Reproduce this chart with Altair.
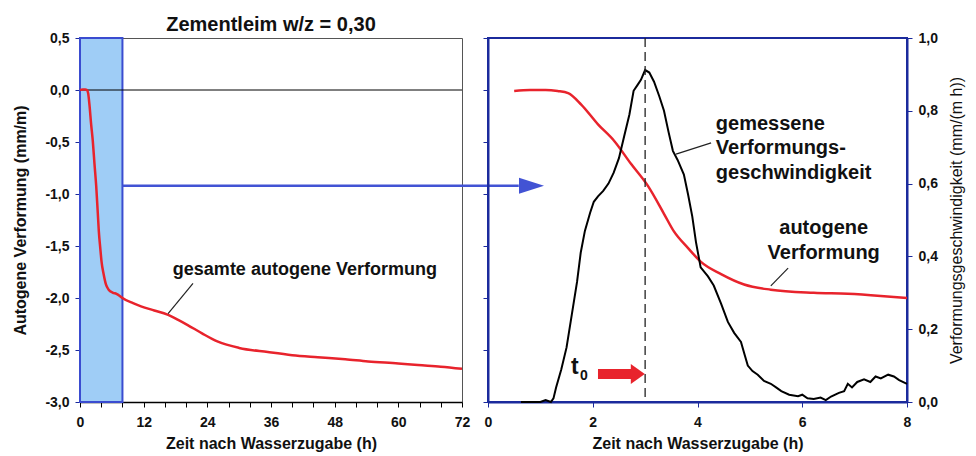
import altair as alt
import pandas as pd

# ---------------- data ----------------
# left panel: total autogenous deformation (mm/m) over 72 h
left_t = [0, 0.5, 1.0, 1.3, 1.53, 1.78, 2.1, 2.41, 2.73, 3.05, 3.36, 3.55, 3.82, 4.06, 4.45,
          4.89, 5.4, 6.22, 6.87, 7.5, 8.0, 10, 11.5, 14, 16.5, 18.5, 20.3, 23, 26, 30, 35.4,
          40, 44.8, 50, 54.3, 60, 63.7, 68, 72]
left_v = [0.0, 0.005, 0.005, 0.0, -0.03, -0.14, -0.33, -0.49, -0.71, -0.92, -1.19, -1.36, -1.52,
          -1.65, -1.77, -1.87, -1.92, -1.95, -1.96, -1.98, -2.0, -2.05, -2.08, -2.12, -2.16,
          -2.21, -2.26, -2.34, -2.42, -2.48, -2.52, -2.55, -2.57, -2.59, -2.61, -2.63, -2.645,
          -2.66, -2.68]

# right panel: autogenous deformation (mm/m), first 8 h
right_t = [0.5, 0.8, 1.1, 1.33, 1.53, 1.78, 2.1, 2.41, 2.73, 3.05, 3.36, 3.55, 3.82, 4.06, 4.45,
           4.89, 5.4, 6.22, 6.87, 7.5, 8.0]
right_v = [-0.01, 0.0, 0.0, -0.01, -0.03, -0.14, -0.33, -0.49, -0.71, -0.92, -1.19, -1.36, -1.52,
           -1.65, -1.77, -1.87, -1.92, -1.95, -1.96, -1.98, -2.0]

# right panel: measured deformation rate (mm/(m h))
rate_t = [0.63, 1.0, 1.1, 1.2, 1.25, 1.3, 1.4, 1.5, 1.6, 1.7, 1.77, 1.85, 1.95, 2.02, 2.1, 2.2,
          2.3, 2.4, 2.5, 2.6, 2.7, 2.78, 2.85, 2.92, 3.0, 3.08, 3.17, 3.27, 3.36, 3.45, 3.53,
          3.62, 3.74, 3.82, 3.9, 3.97, 4.06, 4.2, 4.31, 4.45, 4.58, 4.7, 4.83, 4.9, 4.96, 5.05,
          5.15, 5.27, 5.4, 5.5, 5.6, 5.75, 5.92, 6.0, 6.1, 6.22, 6.35, 6.45, 6.55, 6.7, 6.8,
          6.87, 6.95, 7.05, 7.18, 7.3, 7.4, 7.5, 7.64, 7.75, 7.85, 8.0]
rate_v = [0.0, 0.0, 0.005, 0.0, 0.01, 0.04, 0.09, 0.15, 0.24, 0.33, 0.41, 0.47, 0.52, 0.55, 0.565,
          0.58, 0.6, 0.63, 0.67, 0.73, 0.79, 0.855, 0.87, 0.885, 0.912, 0.905, 0.88, 0.84, 0.80,
          0.74, 0.69, 0.665, 0.625, 0.57, 0.51, 0.44, 0.37, 0.345, 0.32, 0.27, 0.22, 0.19, 0.165,
          0.13, 0.10, 0.085, 0.075, 0.058, 0.05, 0.04, 0.03, 0.02, 0.016, 0.02, 0.01, 0.008,
          0.012, 0.005, 0.015, 0.025, 0.03, 0.05, 0.04, 0.055, 0.062, 0.055, 0.07, 0.065, 0.075,
          0.07, 0.06, 0.05]

left_x_ticks = list(range(0, 73, 4))
left_y_ticks = [-3.0, -2.5, -2.0, -1.5, -1.0, -0.5, 0.0, 0.5]
right_x_ticks = [0, 2, 4, 6, 8]
right_y_ticks = [0.0, 0.2, 0.4, 0.6, 0.8, 1.0]

title_text = "Zementleim w/z = 0,30"
x_title = "Zeit nach Wasserzugabe (h)"
left_y_title = "Autogene Verformung (mm/m)"
right_y_title = "Verformungsgeschwindigkeit (mm/(m h))"

# shaded window (0-8 h) and transfer arrow (left-panel units)
shade_t = [0]; shade_t2 = [8]; shade_v = [-3.0]; shade_v2 = [0.5]
blue_arrow_t = [8]; blue_arrow_t2 = [82.7]; blue_arrow_v = [-0.92]
blue_head_t = [85.1]; blue_head_v = [-0.92]

left_label = ["gesamte autogene Verformung"]; left_label_t = [17.5]; left_label_v = [-1.73]
left_lead_t = [21.3]; left_lead_t2 = [16.6]; left_lead_v = [-1.86]; left_lead_v2 = [-2.15]

right_labels = ["gemessene", "Verformungs-", "geschwindigkeit"]
right_labels_t = [4.35, 4.35, 4.35]
right_labels_v = [0.764, 0.698, 0.629]
right_labels2 = ["autogene", "Verformung"]
right_labels2_t = [6.41, 6.41]
right_labels2_v = [0.478, 0.409]
lead_t = [3.59, 5.73]; lead_t2 = [4.26, 5.40]; lead_v = [0.681, 0.368]; lead_v2 = [0.712, 0.319]

t0_t = [3.0]
red_arrow_t = [2.10]; red_arrow_t2 = [2.78]; red_arrow_v = [0.077]
red_head_t = [2.86]; red_head_v = [0.077]
t_lab_t = [1.66]; t_lab_v = [0.095]
sub_lab_t = [1.83]; sub_lab_v = [0.072]

# ---------------- style ----------------
FONT = "Liberation Sans"
NAVY = "#1B2A9C"
RED = "#E8232C"
BLUE = "#4253D4"
SHADE = "#9FCDF6"
SHADE_STROKE = "#3A4CD0"
COMMA = "(datum.value < 0 ? '-' : '') + replace(format(abs(datum.value), '.1f'), '.', ',')"

# ---------------- left panel ----------------
lx = alt.X("t:Q", scale=alt.Scale(domain=[0, 72], nice=False, zero=False),
           axis=alt.Axis(values=left_x_ticks, labelExpr="datum.value % 12 == 0 ? datum.label : ''",
                         title=x_title, labelFlush=False, labelOverlap=False,
                         domainColor="black", domainWidth=1.5, tickColor="black", tickSize=5,
                         labelPadding=8, titlePadding=6))
ly = alt.Y("v:Q", scale=alt.Scale(domain=[-3, 0.5], nice=False, zero=False),
           axis=alt.Axis(values=left_y_ticks, labelExpr=COMMA, title=left_y_title,
                         labelFlush=False, labelOverlap=False,
                         domainColor=NAVY, domainWidth=2.5, tickColor=NAVY, tickSize=5,
                         labelPadding=6, titlePadding=16))

shade = alt.Chart(pd.DataFrame({"t": shade_t, "t2": shade_t2, "v": shade_v, "v2": shade_v2})).mark_rect(
    fill=SHADE, stroke=SHADE_STROKE, strokeWidth=2).encode(x=lx, x2="t2:Q", y=ly, y2="v2:Q")
zero = alt.Chart(pd.DataFrame({"v": [0.0]})).mark_rule(color="black", strokeWidth=1).encode(y=ly)
lcurve = alt.Chart(pd.DataFrame({"t": left_t, "v": left_v})).mark_line(
    color=RED, strokeWidth=2.5, interpolate="monotone").encode(x=lx, y=ly)
larrow = alt.Chart(pd.DataFrame({"t": blue_arrow_t, "t2": blue_arrow_t2, "v": blue_arrow_v})).mark_rule(
    color=BLUE, strokeWidth=2.5).encode(x=lx, x2="t2:Q", y=ly)
lhead = alt.Chart(pd.DataFrame({"t": blue_head_t, "v": blue_head_v})).mark_point(
    shape="M-1,-0.64L1,0L-1,0.64Z", size=625, filled=True, color=BLUE, opacity=1).encode(x=lx, y=ly)
llead = alt.Chart(pd.DataFrame({"t": left_lead_t, "t2": left_lead_t2, "v": left_lead_v, "v2": left_lead_v2})).mark_rule(
    color="#222", strokeWidth=1.2).encode(x=lx, x2="t2:Q", y=ly, y2="v2:Q")
ltext = alt.Chart(pd.DataFrame({"t": left_label_t, "v": left_label_v, "label": left_label})).mark_text(
    align="left", baseline="middle", font=FONT, fontSize=18, fontWeight="bold", color="#111").encode(
    x=lx, y=ly, text="label:N")

left = alt.layer(shade, zero, lcurve, llead, ltext, larrow, lhead).properties(
    width=382, height=364,
    title=alt.TitleParams(title_text, font=FONT, fontSize=20, fontWeight="bold", color="#111",
                          offset=-4, frame="group"),
    view=alt.ViewBackground(stroke="#555", strokeWidth=1))

# ---------------- right panel ----------------
rx = alt.X("t:Q", scale=alt.Scale(domain=[0, 8], nice=False, zero=False),
           axis=alt.Axis(values=right_x_ticks, title=x_title, labelFlush=False, labelOverlap=False,
                         domainColor=NAVY, domainWidth=2, tickColor=NAVY, tickSize=5,
                         labelPadding=8, titlePadding=6))
ryl = alt.Y("v:Q", scale=alt.Scale(domain=[-3, 0.5], nice=False, zero=False),
            axis=alt.Axis(orient="left", values=left_y_ticks, labels=False, title=None,
                          domainColor=NAVY, domainWidth=2, tickColor=NAVY, tickSize=5))
ryr = alt.Y("v:Q", scale=alt.Scale(domain=[0, 1], nice=False, zero=False),
            axis=alt.Axis(orient="right", values=right_y_ticks, labelExpr=COMMA, title=right_y_title,
                          titleAngle=270, titleFontWeight="normal", titleFontSize=16,
                          labelFlush=False, labelOverlap=False,
                          domainColor=NAVY, domainWidth=2, tickColor=NAVY, tickSize=5,
                          labelPadding=6, titlePadding=27))

rcurve = alt.Chart(pd.DataFrame({"t": right_t, "v": right_v})).mark_line(
    color=RED, strokeWidth=2.5, interpolate="monotone").encode(x=rx, y=ryl)
groupA = alt.layer(rcurve)

rate = alt.Chart(pd.DataFrame({"t": rate_t, "v": rate_v})).mark_line(
    color="black", strokeWidth=2).encode(x=rx, y=ryr)
t0line = alt.Chart(pd.DataFrame({"t": t0_t})).mark_rule(
    color="#222", strokeWidth=1.3, strokeDash=[9, 5]).encode(x=rx)
rshaft = alt.Chart(pd.DataFrame({"t": red_arrow_t, "t2": red_arrow_t2, "v": red_arrow_v})).mark_rule(
    color=RED, strokeWidth=10).encode(x=rx, x2="t2:Q", y=ryr)
rhead = alt.Chart(pd.DataFrame({"t": red_head_t, "v": red_head_v})).mark_point(
    shape="M-0.7,-1L0.7,0L-0.7,1Z", size=400, filled=True, color=RED, opacity=1).encode(x=rx, y=ryr)
tlab = alt.Chart(pd.DataFrame({"t": t_lab_t, "v": t_lab_v, "label": ["t"]})).mark_text(
    align="center", baseline="middle", font=FONT, fontSize=23, fontWeight="bold", color="#111").encode(
    x=rx, y=ryr, text="label:N")
sublab = alt.Chart(pd.DataFrame({"t": sub_lab_t, "v": sub_lab_v, "label": ["0"]})).mark_text(
    align="center", baseline="middle", font=FONT, fontSize=14, fontWeight="bold", color="#111").encode(
    x=rx, y=ryr, text="label:N")
rtext1 = alt.Chart(pd.DataFrame({"t": right_labels_t, "v": right_labels_v, "label": right_labels})).mark_text(
    align="left", baseline="middle", font=FONT, fontSize=20, fontWeight="bold", color="#111").encode(
    x=rx, y=ryr, text="label:N")
rtext2 = alt.Chart(pd.DataFrame({"t": right_labels2_t, "v": right_labels2_v, "label": right_labels2})).mark_text(
    align="center", baseline="middle", font=FONT, fontSize=20, fontWeight="bold", color="#111").encode(
    x=rx, y=ryr, text="label:N")
rlead = alt.Chart(pd.DataFrame({"t": lead_t, "t2": lead_t2, "v": lead_v, "v2": lead_v2})).mark_rule(
    color="#222", strokeWidth=1.2).encode(x=rx, x2="t2:Q", y=ryr, y2="v2:Q")
groupB = alt.layer(rate, t0line, rshaft, rhead, tlab, sublab, rtext1, rtext2, rlead)

right = alt.layer(groupA, groupB).resolve_scale(y="independent").properties(
    width=419, height=364, view=alt.ViewBackground(stroke=NAVY, strokeWidth=2))

chart = alt.hconcat(left, right, spacing=26, bounds="flush",
                    padding={"left": 4, "top": 6, "right": 0, "bottom": 0}).configure(
    font=FONT, background="white").configure_axis(
    labelFont=FONT, labelFontSize=14, labelFontWeight="bold", labelColor="#111",
    titleFont=FONT, titleFontSize=16, titleFontWeight="bold", titleColor="#111",
    grid=False)

chart.save("out.html", embed_options={"renderer": "svg", "actions": False})
